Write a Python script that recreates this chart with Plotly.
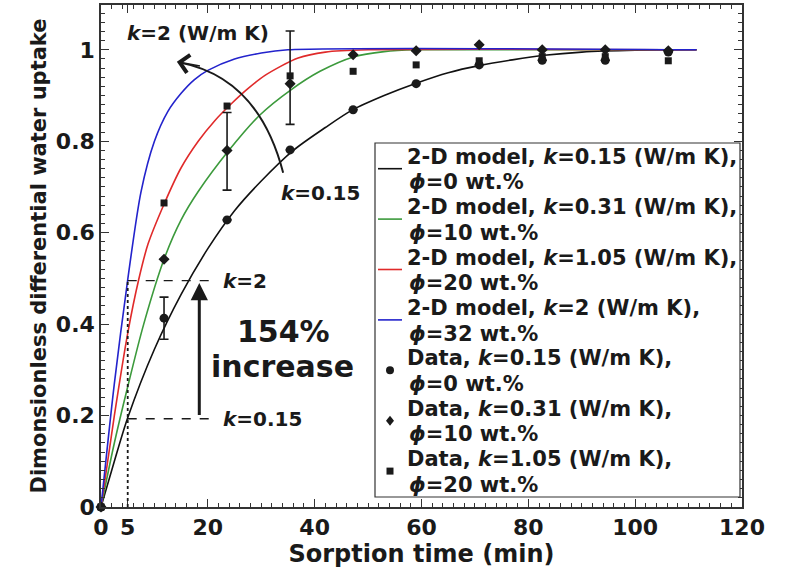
import plotly.graph_objects as go

# ---------------- data ----------------
t_k015 = [0, 2.5, 5, 10, 15, 20, 25, 30, 36, 42, 47, 53, 59, 65, 71, 77, 83, 90, 100, 111.5]
v_k015 = [0, 0.10, 0.195, 0.345, 0.465, 0.565, 0.648, 0.713, 0.78, 0.83, 0.868, 0.90, 0.927, 0.95, 0.966, 0.978, 0.988, 0.995, 0.999, 1.0]

t_k031 = [0, 2.5, 5, 8, 11.9, 15, 18.2, 23.8, 29.8, 35.5, 41, 47.4, 53, 59, 70, 111.5]
v_k031 = [0, 0.14, 0.263, 0.40, 0.545, 0.628, 0.69, 0.778, 0.858, 0.912, 0.953, 0.985, 0.996, 1.0, 1.0, 1.0]

t_k105 = [0, 2.5, 5, 7.05, 8.8, 11.9, 15, 18.2, 21.3, 24.4, 27.5, 30.7, 36.9, 42, 50, 111.5]
v_k105 = [0, 0.20, 0.38, 0.497, 0.575, 0.665, 0.742, 0.80, 0.845, 0.882, 0.915, 0.944, 0.982, 0.995, 1.0, 1.0]

t_k2 = [0, 2.5, 5, 7.5, 10, 12.5, 15, 17.5, 20, 25, 30, 35, 111.5]
v_k2 = [0, 0.27, 0.497, 0.69, 0.80, 0.865, 0.905, 0.935, 0.955, 0.98, 0.993, 1.0, 1.0]

t_data = [0, 11.8, 23.6, 35.4, 47.2, 59.0, 70.8, 82.6, 94.4, 106.2]
d_k015 = [0, 0.413, 0.628, 0.781, 0.869, 0.926, 0.967, 0.977, 0.977, 0.995]
d_k031 = [0, 0.542, 0.780, 0.926, 0.989, 0.998, 1.011, 1.0, 1.0, 0.998]
d_k105 = [0, 0.665, 0.877, 0.943, 0.953, 0.967, 0.976, 0.985, 0.985, 0.976]

err_k015_plus = [None, 0.046, None, None, None, None, None, None, None, None]
err_k015_minus = [None, 0.046, None, None, None, None, None, None, None, None]
err_k031_plus = [None, None, 0.083, 0.115, None, None, None, None, None, None]
err_k031_minus = [None, None, 0.087, 0.089, None, None, None, None, None, None]

x_tickvals = [0, 5, 20, 40, 60, 80, 100, 120]
y_tickvals = [0, 0.2, 0.4, 0.6, 0.8, 1]
y_ticktext = ["0", "0.2", "0.4", "0.6", "0.8", "1"]

legend_line1 = [
    "2-D model, <i>k</i>=0.15 (W/m K),",
    "2-D model, <i>k</i>=0.31 (W/m K),",
    "2-D model, <i>k</i>=1.05 (W/m K),",
    "2-D model, <i>k</i>=2 (W/m K),",
    "Data, <i>k</i>=0.15 (W/m K),",
    "Data, <i>k</i>=0.31 (W/m K),",
    "Data, <i>k</i>=1.05 (W/m K),",
]
legend_line2 = [
    "<i>ϕ</i>=0 wt.%", "<i>ϕ</i>=10 wt.%", "<i>ϕ</i>=20 wt.%", "<i>ϕ</i>=32 wt.%",
    "<i>ϕ</i>=0 wt.%", "<i>ϕ</i>=10 wt.%", "<i>ϕ</i>=20 wt.%",
]

# annotation anchors (data units)
t_mark = 5
v_low, v_high = 0.193, 0.495
t_dash_end = 20.8
t_big_arrow = 18.4
curve_arrow = dict(p0=(34.1, 0.731), p1=(29.5, 0.939), p2=(14.8, 0.972))

FONT = "DejaVu Sans"
INK = "#1a1a1a"
FRAME = "#333333"

# plot-area geometry in pixels (for the hand-drawn legend box)
W, H = 792, 571
PL, PR, PT, PB = 101, 742, 5, 507


def px_x(px):
    return (px - PL) / (PR - PL)


def px_y(py):
    return (PB - py) / (PB - PT)


fig = go.Figure()
model_colors = ["#111111", "#3c9a3c", "#e02a2a", "#2323cc"]
model_names = [a + " " + b for a, b in zip(legend_line1[:4], legend_line2[:4])]
for tt, vv, nm, c in zip([t_k015, t_k031, t_k105, t_k2], [v_k015, v_k031, v_k105, v_k2],
                         model_names, model_colors):
    fig.add_trace(go.Scatter(x=tt, y=vv, mode="lines", name=nm, showlegend=False,
                             line=dict(color=c, width=1.6, shape="spline", smoothing=0.8),
                             cliponaxis=False))

fig.add_trace(go.Scatter(x=t_data, y=d_k015, mode="markers", showlegend=False,
                         name=legend_line1[4] + " " + legend_line2[4],
                         marker=dict(symbol="circle", size=9, color=INK),
                         error_y=dict(type="data", array=err_k015_plus, arrayminus=err_k015_minus,
                                      symmetric=False, color=INK, thickness=1.6, width=4.5),
                         cliponaxis=False))
fig.add_trace(go.Scatter(x=t_data, y=d_k031, mode="markers", showlegend=False,
                         name=legend_line1[5] + " " + legend_line2[5],
                         marker=dict(symbol="diamond", size=8.5, color=INK),
                         error_y=dict(type="data", array=err_k031_plus, arrayminus=err_k031_minus,
                                      symmetric=False, color=INK, thickness=1.6, width=4.5),
                         cliponaxis=False))
fig.add_trace(go.Scatter(x=t_data, y=d_k105, mode="markers", showlegend=False,
                         name=legend_line1[6] + " " + legend_line2[6],
                         marker=dict(symbol="square", size=7, color=INK),
                         cliponaxis=False))

# dashed guide lines
fig.add_shape(type="line", x0=t_mark, x1=t_dash_end, y0=v_low, y1=v_low,
              line=dict(color=INK, width=1.3, dash="dash"))
fig.add_shape(type="line", x0=t_mark, x1=t_dash_end, y0=v_high, y1=v_high,
              line=dict(color=INK, width=1.3, dash="dash"))
fig.add_shape(type="line", x0=t_mark, x1=t_mark, y0=0, y1=v_high,
              line=dict(color=INK, width=1.8, dash="dot"))

# curved arrow
p0, p1, p2 = curve_arrow["p0"], curve_arrow["p1"], curve_arrow["p2"]
fig.add_shape(type="path", xref="x", yref="y",
              path=f"M {p0[0]},{p0[1]} Q {p1[0]},{p1[1]} {p2[0]},{p2[1]}",
              line=dict(color=INK, width=2))
fig.add_annotation(x=p2[0] - 0.6, y=p2[1] + 0.002, ax=p2[0] + 4.0, ay=p2[1] - 0.008,
                   xref="x", yref="y", axref="x", ayref="y", text="",
                   showarrow=True, arrowhead=4, arrowsize=2.2, arrowwidth=1.6, arrowcolor=INK)

# big vertical arrow
fig.add_annotation(x=t_big_arrow, y=v_high - 0.005, ax=t_big_arrow, ay=v_low + 0.005,
                   xref="x", yref="y", axref="x", ayref="y", text="",
                   showarrow=True, arrowhead=2, arrowsize=1.15, arrowwidth=3, arrowcolor=INK)

txt = dict(family=FONT, size=20, color=INK, weight="bold")
big = dict(family=FONT, size=30, color=INK, weight="bold")
fig.add_annotation(x=18.2, y=1.037, text="<i>k</i>=2 (W/m K)", showarrow=False, font=txt, xanchor="center")
fig.add_annotation(x=41.0, y=0.687, text="<i>k</i>=0.15", showarrow=False, font=txt, xanchor="center")
fig.add_annotation(x=22.5, y=v_high, text="<i>k</i>=2", showarrow=False, font=txt, xanchor="left")
fig.add_annotation(x=22.5, y=v_low, text="<i>k</i>=0.15", showarrow=False, font=txt, xanchor="left")
fig.add_annotation(x=34.1, y=0.384, text="154%", showarrow=False, font=big, xanchor="center")
fig.add_annotation(x=34.0, y=0.307, text="increase", showarrow=False, font=big, xanchor="center")

# ---------------- legend (drawn by hand to match spacing) ----------------
leg_left, leg_right, leg_top, leg_bottom = 375, 740, 143, 497
fig.add_shape(type="rect", xref="paper", yref="paper",
              x0=px_x(leg_left), x1=px_x(leg_right), y0=px_y(leg_bottom), y1=px_y(leg_top),
              line=dict(color=FRAME, width=1.2), fillcolor="white", layer="above")
leg_font = dict(family=FONT, size=21, color=INK, weight="bold")
first_line_y = 156.7
entry_step = 50.4
line_gap = 25.6
text_x = 405
for i, (l1, l2) in enumerate(zip(legend_line1, legend_line2)):
    y1 = first_line_y + i * entry_step
    fig.add_annotation(xref="paper", yref="paper", x=px_x(text_x), y=px_y(y1), text=l1,
                       showarrow=False, xanchor="left", yanchor="middle", font=leg_font)
    fig.add_annotation(xref="paper", yref="paper", x=px_x(text_x + 1.5), y=px_y(y1 + line_gap), text=l2,
                       showarrow=False, xanchor="left", yanchor="middle", font=leg_font)
    ys = px_y(y1 + 12)
    if i < 4:
        fig.add_shape(type="line", xref="paper", yref="paper",
                      x0=px_x(378), x1=px_x(402), y0=ys, y1=ys,
                      line=dict(color=model_colors[i], width=1.6))
    else:
        xa = px_x(390)
        if i == 4:
            fig.add_shape(type="circle", xref="paper", yref="paper", xsizemode="pixel", ysizemode="pixel",
                          xanchor=xa, yanchor=ys, x0=-4, x1=4, y0=-4, y1=4,
                          fillcolor=INK, line=dict(color=INK, width=0))
        elif i == 5:
            fig.add_shape(type="path", xref="paper", yref="paper", xsizemode="pixel", ysizemode="pixel",
                          xanchor=xa, yanchor=ys, path="M 0,5 L 4,0 L 0,-5 L -4,0 Z",
                          fillcolor=INK, line=dict(color=INK, width=0))
        else:
            fig.add_shape(type="rect", xref="paper", yref="paper", xsizemode="pixel", ysizemode="pixel",
                          xanchor=xa, yanchor=ys, x0=-3.5, x1=3.5, y0=-3.5, y1=3.5,
                          fillcolor=INK, line=dict(color=INK, width=0))

axis_common = dict(showline=True, linecolor=FRAME, linewidth=1.5, mirror="allticks",
                   ticks="inside", ticklen=8, tickwidth=1.2, tickcolor=FRAME,
                   showgrid=False, zeroline=False,
                   tickfont=dict(family=FONT, size=22, color=INK, weight="bold"))

fig.update_xaxes(range=[0, 120], tickmode="array", tickvals=x_tickvals,
                 minor=dict(ticks="inside", ticklen=4, dtick=2, tick0=0, tickcolor=FRAME, showgrid=False),
                 title=dict(text="Sorption time (min)", font=dict(family=FONT, size=24, color=INK, weight="bold"),
                            standoff=2),
                 **axis_common)
fig.update_yaxes(range=[0, 1.098], tickmode="array", tickvals=y_tickvals, ticktext=y_ticktext,
                 minor=dict(ticks="inside", ticklen=4, dtick=0.02, tick0=0, tickcolor=FRAME, showgrid=False),
                 title=dict(text="Dimonsionless differential water uptake",
                            font=dict(family=FONT, size=21, color=INK, weight="bold"), standoff=4),
                 **axis_common)

fig.update_layout(
    width=W, height=H,
    margin=dict(l=PL, r=W - PR, t=PT, b=H - PB, autoexpand=False),
    paper_bgcolor="white", plot_bgcolor="white",
    showlegend=False,
)

fig.write_html("out.html")
